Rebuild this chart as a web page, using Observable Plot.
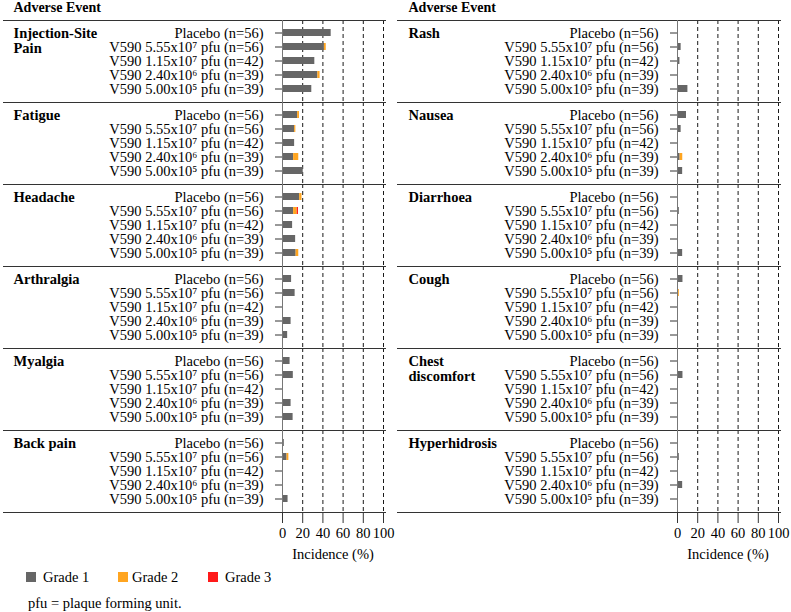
<!DOCTYPE html>
<html>
<head>
<meta charset="utf-8">
<script src="https://cdn.jsdelivr.net/npm/d3@7"></script>
<script src="https://cdn.jsdelivr.net/npm/@observablehq/plot@0.6"></script>
<style>
  html, body { margin: 0; padding: 0; background: white; }
  #wrap { position: relative; width: 791px; height: 612px; font-family: "Liberation Serif", "Times New Roman", serif; color: black; }
  #left { position: absolute; left: 0; top: 0; }
  #right { position: absolute; left: 395px; top: 0; }
  .sw { position: absolute; width: 10px; height: 10px; top: 572px; }
  .lt { position: absolute; top: 569px; font-size: 14.5px; line-height: 16px; white-space: nowrap; }
  #caption { position: absolute; left: 28px; top: 595px; font-size: 14.5px; line-height: 16px; white-space: nowrap; }
</style>
</head>
<body>
<div id="wrap">
  <div id="left"></div>
  <div id="right"></div>
  <div id="legend"></div>
  <div id="caption">pfu = plaque forming unit.</div>
</div>
<script>
// ---- data ----
const leftEvents = ["Injection-Site Pain", "Fatigue", "Headache", "Arthralgia", "Myalgia", "Back pain"];
const rightEvents = ["Rash", "Nausea", "Diarrhoea", "Cough", "Chest discomfort", "Hyperhidrosis"];
const eventLines = {"Injection-Site Pain": "Injection-Site\nPain", "Chest discomfort": "Chest\ndiscomfort"};
const groups = [
  "Placebo (n=56)",
  "V590 5.55x10\u2077 pfu (n=56)",
  "V590 1.15x10\u2077 pfu (n=42)",
  "V590 2.40x10\u2076 pfu (n=39)",
  "V590 5.00x10\u2075 pfu (n=39)"
];
const grades = ["Grade 1", "Grade 2", "Grade 3"];
const xTicks = [0, 20, 40, 60, 80, 100];

const grade1 = {
  "Injection-Site Pain": [48.2, 41.5, 32, 35, 29],
  "Fatigue": [15, 12, 12, 11, 20.5],
  "Headache": [17, 11, 10, 13, 13.5],
  "Arthralgia": [9, 12.5, 0, 8.5, 5.1],
  "Myalgia": [7.5, 10.7, 0, 8.5, 10.5],
  "Back pain": [1.8, 4.5, 0, 0, 5.5],
  "Rash": [0, 3.6, 2.4, 0, 10.3],
  "Nausea": [8.9, 3.6, 0, 2.6, 5.1],
  "Diarrhoea": [0, 1.8, 0, 0, 5.1],
  "Cough": [5.4, 0, 0, 0, 0],
  "Chest discomfort": [0, 5.4, 0, 0, 0],
  "Hyperhidrosis": [0, 1.8, 0, 5.1, 0]
};
const grade2 = {
  "Injection-Site Pain": [0, 1.8, 0, 2.2, 0],
  "Fatigue": [1.8, 1.2, 0, 5.1, 0],
  "Headache": [2.3, 3.6, 0, 0, 2.6],
  "Back pain": [0, 1.8, 0, 0, 0],
  "Nausea": [0, 0, 0, 2.6, 0],
  "Cough": [0, 1.8, 0, 0, 0]
};
const grade3 = {
  "Headache": [0, 1.2, 0, 0, 0]
};
const gradeValues = [grade1, grade2, grade3];
const gradeColors = ["#666666", "#FFA520", "#FF1A1A"];

// ---- build ----
function panel(events, width, lineStartInset) {
  const rows = [];
  for (const e of events) {
    groups.forEach((g, i) => {
      grades.forEach((gr, k) => {
        const v = (gradeValues[k][e] || [0, 0, 0, 0, 0])[i];
        rows.push({event: e, group: g, grade: gr, value: v});
      });
    });
  }
  const labels = events.map(e => ({event: e, label: eventLines[e] || e}));
  const mL = 282, plotW = 101;
  return Plot.plot({
    width,
    height: 562,
    marginTop: 20,
    marginBottom: 50,
    marginLeft: mL,
    marginRight: width - mL - plotW,
    style: {fontFamily: "'Liberation Serif', 'Times New Roman', serif", fontSize: "14.5px", color: "black", background: "white", overflow: "visible"},
    x: {domain: [0, 100]},
    y: {domain: groups, paddingInner: 0.47, paddingOuter: 0.55, label: null},
    fy: {domain: events, padding: 0, label: null, axis: null},
    color: {domain: grades, range: gradeColors},
    marks: [
      Plot.gridX({ticks: xTicks.slice(1), stroke: "black", strokeOpacity: 0.9, strokeDasharray: "4,3"}),
      Plot.frame({anchor: "top", insetLeft: lineStartInset, insetRight: -2, stroke: "#333"}),
      Plot.frame({anchor: "bottom", insetLeft: lineStartInset, insetRight: -2, stroke: "#333"}),
      Plot.barX(rows, Plot.stackX({x: "value", y: "group", fy: "event", fill: "grade", order: grades})),
      Plot.ruleX([0], {stroke: "#777"}),
      Plot.axisY({tickSize: 7, tickPadding: 12, label: null, stroke: "#333"}),
      Plot.axisX({ticks: xTicks, tickSize: 11, tickPadding: 4, stroke: "#333", label: "Incidence (%)", labelAnchor: "center", labelArrow: "none", labelOffset: 46}),
      Plot.text(labels, {fy: "event", y: () => groups[0], text: "label", frameAnchor: "left", dx: -269, textAnchor: "start", lineAnchor: "top", dy: -6.8, fontWeight: "bold", lineHeight: 1.1}),
      Plot.text([{event: events[0], label: "Adverse Event"}], {fy: "event", text: "label", frameAnchor: "top-left", dx: -269, dy: -13, textAnchor: "start", lineAnchor: "middle", fontWeight: "bold", fontSize: 14})
    ]
  });
}

document.getElementById("left").appendChild(panel(leftEvents, 395, -279));
document.getElementById("right").appendChild(panel(rightEvents, 396, -280));

// legend
const legend = document.getElementById("legend");
const swX = [26, 118, 208], txtX = [43, 132, 225];
grades.forEach((g, i) => {
  const s = document.createElement("div");
  s.className = "sw"; s.style.left = swX[i] + "px"; s.style.background = gradeColors[i];
  legend.appendChild(s);
  const t = document.createElement("div");
  t.className = "lt"; t.style.left = txtX[i] + "px"; t.textContent = g;
  legend.appendChild(t);
});
</script>
</body>
</html>
